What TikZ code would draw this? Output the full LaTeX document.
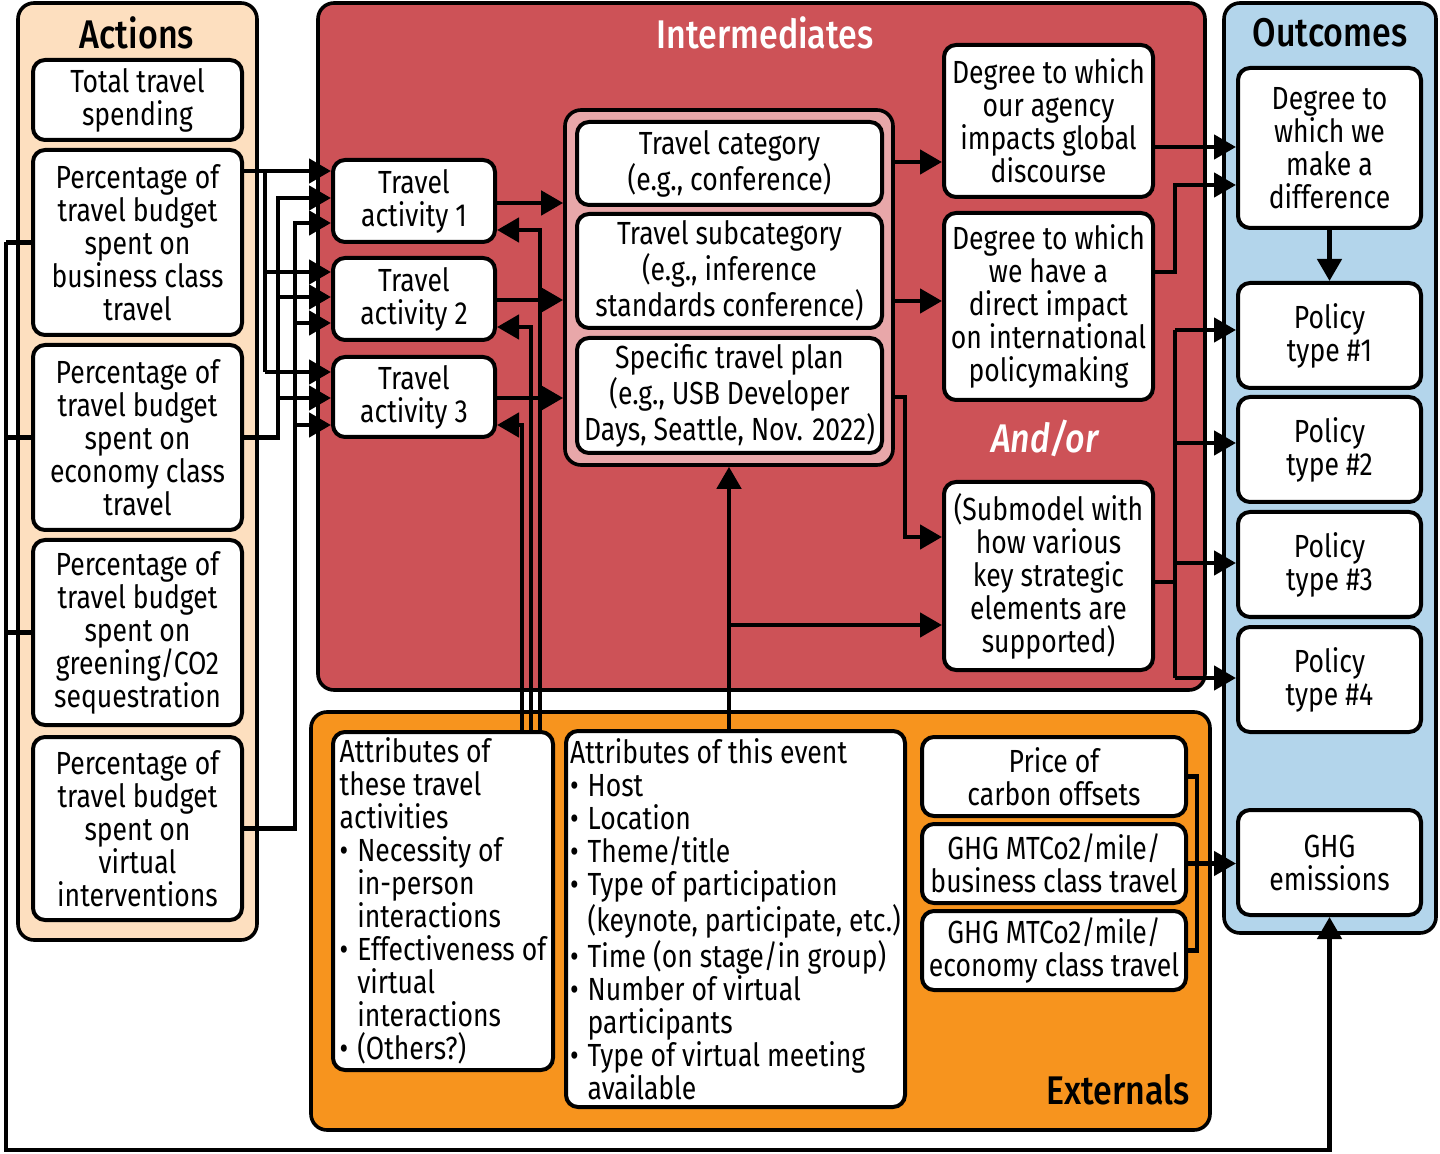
\documentclass[tikz,border=0pt]{standalone}
\usepackage{fontspec}
\setmainfont{Fira Sans}[FakeStretch=0.83]
\newfontfamily\titlefont{Fira Sans Medium}[FakeStretch=0.85]
\usetikzlibrary{arrows.meta}
\definecolor{actfill}{HTML}{FDDFBF}
\definecolor{intfill}{HTML}{CD5257}
\definecolor{grpfill}{HTML}{E8A7A9}
\definecolor{outfill}{HTML}{B3D5EB}
\definecolor{extfill}{HTML}{F7941E}
\newcommand{\mkbox}[7][]{\node[box,minimum width={(#5-#3)*0.5pt},minimum height={(#6-#4)*0.5pt},#1] (#2) at ({(#3+#5)/2},{(#4+#6)/2}) {#7};}
\newcommand{\bul}{\makebox[0.55em][l]{\textbullet}}
\newcommand{\ind}{\hspace*{0.55em}}
\begin{document}
\begin{tikzpicture}[x=0.5pt,y=-0.5pt,
  box/.style={draw, fill=white, line width=2pt, rounded corners=6pt, align=center, inner sep=0pt, font=\fontsize{16}{16.5}\selectfont},
  panel/.style={draw, line width=1.8pt, rounded corners=8pt, inner sep=0pt},
  link/.style={line width=2.3pt},
  conn/.style={line width=2.3pt, -{Triangle[length=11pt,width=12pt]}},
  title/.style={font=\fontsize{20}{22}\titlefont, inner sep=0pt}]
\useasboundingbox (0,0) rectangle (1440,1154);
\fill[white] (0,0) rectangle (1440,1154);

% panels
\mkbox[panel,fill=actfill]{actP}{18}{3}{257}{940}{}
\mkbox[panel,fill=intfill]{intP}{318}{3}{1205}{690}{}
\mkbox[panel,fill=outfill]{outP}{1224}{3}{1436}{933}{}
\mkbox[panel,fill=extfill]{extP}{311}{712}{1210}{1130}{}

\node[title] (tAct) at (137,33) {Actions};
\node[title,text=white] (tInt) at (765,33) {Intermediates};
\node[title] (tOut) at (1330,33) {Outcomes};
\node[title] (tExt) at (1118,1090) {Externals};
\node[title,text=white,font=\fontsize{20}{22}\titlefont\itshape] (andor) at (1045,438) {And/or};

% actions
\mkbox{total}{33}{60}{242}{140}{Total travel\\spending}
\mkbox{bus}{33}{150}{242}{335}{Percentage of\\travel budget\\spent on\\business class\\travel}
\mkbox{eco}{33}{345}{242}{530}{Percentage of\\travel budget\\spent on\\economy class\\travel}
\mkbox{green}{33}{540}{242}{725}{Percentage of\\travel budget\\spent on\\greening/CO2\\sequestration}
\mkbox{virt}{33}{737}{242}{920}{Percentage of\\travel budget\\spent on\\virtual\\interventions}

% intermediates
\mkbox{act1}{333}{160}{495}{242}{Travel\\activity 1}
\mkbox{act2}{333}{258}{495}{340}{Travel\\activity 2}
\mkbox{act3}{333}{357}{495}{437}{Travel\\activity 3}
\mkbox[panel,fill=grpfill]{grp}{565}{110}{893}{465}{}
\mkbox{cat}{577}{122}{882}{205}{Travel category\\(e.g., conference)}
\mkbox{subcat}{577}{214}{882}{328}{Travel subcategory\\(e.g., inference\\standards conference)}
\mkbox{plan}{577}{338}{882}{453}{Specific travel plan\\(e.g., USB Developer\\Days, Seattle, Nov. 2022)}
\mkbox{deg1}{944}{45}{1153}{197}{Degree to which\\our agency\\impacts global\\discourse}
\mkbox{deg2}{944}{213}{1153}{400}{Degree to which\\we have a\\direct impact\\on international\\policymaking}
\mkbox{sub}{944}{482}{1153}{670}{(Submodel with\\how various\\key strategic\\elements are\\supported)}

% outcomes
\mkbox{diff}{1238}{68}{1421}{228}{Degree to\\which we\\make a\\difference}
\mkbox{pol1}{1238}{283}{1421}{388}{Policy\\type \#1}
\mkbox{pol2}{1238}{397}{1421}{502}{Policy\\type \#2}
\mkbox{pol3}{1238}{512}{1421}{617}{Policy\\type \#3}
\mkbox{pol4}{1238}{627}{1421}{732}{Policy\\type \#4}
\mkbox{ghg}{1238}{810}{1421}{915}{GHG\\emissions}

% externals
\mkbox[align=left]{attr}{333}{732}{553}{1070}{Attributes of\\these travel\\activities\\\bul Necessity of\\\ind in-person\\\ind interactions\\\bul Effectiveness of\\\ind virtual\\\ind interactions\\\bul (Others?)}
\mkbox[align=left]{event}{566}{731}{905}{1107}{Attributes of this event\\\bul Host\\\bul Location\\\bul Theme/title\\\bul Type of participation\\\ind (keynote, participate, etc.)\\\bul Time (on stage/in group)\\\bul Number of virtual\\\ind participants\\\bul Type of virtual meeting\\\ind available}
\mkbox{price}{922}{737}{1186}{816}{Price of\\carbon offsets}
\mkbox{ghgbus}{922}{824}{1186}{903}{GHG MTCo2/mile/\\business class travel}
\mkbox{ghgeco}{922}{911}{1186}{990}{GHG MTCo2/mile/\\economy class travel}

% ---------- connectors ----------
\coordinate (jb) at (265,171);
\coordinate (je) at (278,198);
\coordinate (jv) at (295,223);
\coordinate (a2t) at (0,272); \coordinate (a3t) at (0,372);
\coordinate (a2m) at (0,297); \coordinate (a3m) at (0,398);
\coordinate (a2b) at (0,323); \coordinate (a3b) at (0,425);

% business class -> activities
\draw[conn] (bus.east |- jb) -- (act1.west |- jb);
\draw[link] (jb) -- (jb |- a3t);
\draw[conn] (jb |- a2t) -- (act2.west |- a2t);
\draw[conn] (jb |- a3t) -- (act3.west |- a3t);
% economy class -> activities
\draw[conn] (eco.east) -| (je) -- (act1.west |- je);
\draw[conn] (je |- a2m) -- (act2.west |- a2m);
\draw[conn] (je |- a3m) -- (act3.west |- a3m);
% virtual -> activities
\draw[conn] (virt.east) -| (jv) -- (act1.west |- jv);
\draw[conn] (jv |- a2b) -- (act2.west |- a2b);
\draw[conn] (jv |- a3b) -- (act3.west |- a3b);

% activities -> group
\coordinate (r1) at (0,203); \coordinate (r2) at (0,300); \coordinate (r3) at (0,398);
\draw[conn] (act1.east |- r1) -- (grp.west |- r1);
\draw[conn] (act2.east |- r2) -- (grp.west |- r2);
\draw[conn] (act3.east |- r3) -- (grp.west |- r3);

% attributes -> activities
\coordinate (v1) at (540,230); \coordinate (v2) at (531,327); \coordinate (v3) at (522,425);
\draw[conn] (attr.north -| v1) -- (v1) -- (act1.east |- v1);
\draw[conn] (attr.north -| v2) -- (v2) -- (act2.east |- v2);
\draw[conn] (attr.north -| v3) -- (v3) -- (act3.east |- v3);

% group -> degrees
\coordinate (g1) at (0,162); \coordinate (g2) at (0,301);
\draw[conn] (grp.east |- g1) -- (deg1.west |- g1);
\draw[conn] (grp.east |- g2) -- (deg2.west |- g2);

% plan -> submodel
\coordinate (pp) at (905,397); \coordinate (s1) at (0,537);
\draw[conn] (grp.east |- pp) -- (pp) |- (sub.west |- s1);

% event -> group and submodel
\coordinate (s2) at (0,625);
\draw[conn] (event.north -| grp.south) -- (grp.south);
\draw[conn] (grp.south |- s2) -- (sub.west |- s2);

% degrees -> difference
\coordinate (o1) at (0,147); \coordinate (d2) at (0,272); \coordinate (jd) at (1175,185);
\draw[conn] (deg1.east |- o1) -- (diff.west |- o1);
\draw[conn] (deg2.east |- d2) -| (jd) -- (diff.west |- jd);
\draw[conn] (diff.south) -- (pol1.north);

% submodel -> policies
\coordinate (jp) at (1175,582);
\coordinate (p1) at (0,330); \coordinate (p2) at (0,443); \coordinate (p3) at (0,563); \coordinate (p4) at (0,678);
\draw[link] (sub.east |- jp) -- (jp);
\draw[link] (jp |- p1) -- (jp |- p4);
\draw[conn] (jp |- p1) -- (pol1.west |- p1);
\draw[conn] (jp |- p2) -- (pol2.west |- p2);
\draw[conn] (jp |- p3) -- (pol3.west |- p3);
\draw[conn] (jp |- p4) -- (pol4.west |- p4);

% actions -> GHG emissions loop
\coordinate (L1) at (6,240); \coordinate (L4) at (6,1150);
\draw[link] (bus.west) -- (L1 |- bus.west);
\draw[link] (eco.west) -- (L1 |- eco.west);
\draw[link] (green.west) -- (L1 |- green.west);
\draw[conn] (L1 |- bus.west) -- (L4) -| (ghg.south);

% externals -> GHG emissions
\coordinate (bx) at (1197,0);
\draw[link] (price.east) -| (bx |- ghgeco.east) -- (ghgeco.east);
\draw[conn] (ghgbus.east) -- (ghg.west |- ghgbus.east);
\end{tikzpicture}
\end{document}
